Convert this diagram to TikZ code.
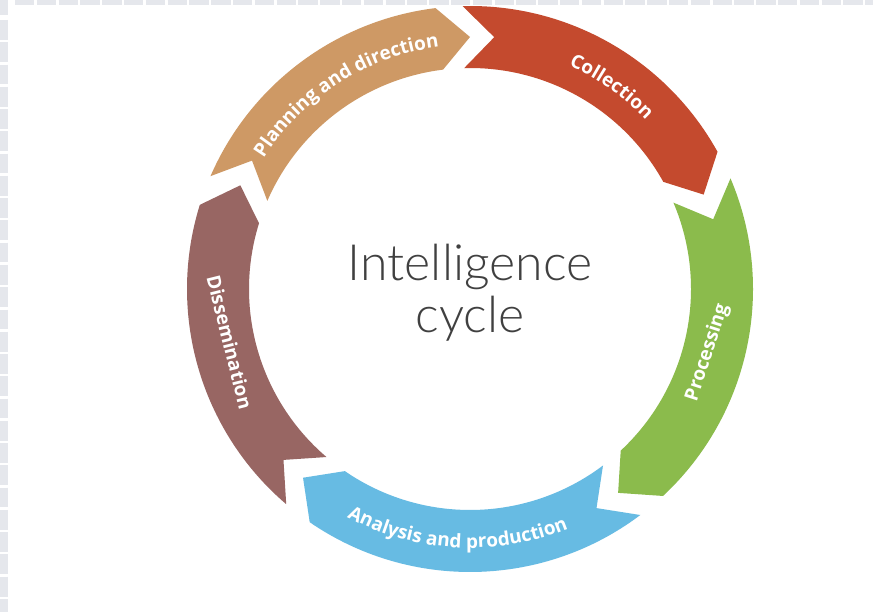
\documentclass[tikz,border=0pt]{standalone}
\usepackage{fontspec}
\setmainfont{Open Sans}
\newfontfamily\titlefont{Lato Light}
\usetikzlibrary{decorations.text}

\definecolor{planbrown}{RGB}{206,153,101}
\definecolor{collectred}{RGB}{196,74,46}
\definecolor{processgreen}{RGB}{139,187,76}
\definecolor{analysisblue}{RGB}{103,187,227}
\definecolor{dissemmauve}{RGB}{152,102,99}
\definecolor{titlegray}{RGB}{64,64,64}
\definecolor{gridgray}{RGB}{229,231,236}

\newcommand{\labelfont}{\bfseries\fontsize{19}{19}\selectfont}

% one block arrow of the ring: colour, tail angle, head angle
\newcommand{\cyclearrow}[3]{%
  \fill[#1] (#2:283) arc[start angle=#2, end angle=#3, radius=283pt]
    -- ({#3-7}:252) -- (#3:221) arc[start angle=#3, end angle=#2, radius=221pt]
    -- ({#2-7}:253) -- cycle;}

\begin{document}
\begin{tikzpicture}[
    x=1pt, y=1pt,
    curvedlabel/.style={
        decorate,
        decoration={text along path, text align=center,
                    text color=white, text={|\labelfont|#1}}
    },
    steplabel/.style={font=\labelfont, text=white, inner sep=0pt}
]
\useasboundingbox (0,0) rectangle (873,612);
\fill[white] (0,0) rectangle (873,612);

% grid strips along the top and left edge
\fill[gridgray] (0,597) rectangle (8,612);
\draw[gridgray, line width=8pt, dash pattern=on 19.8pt off 2.47pt] (4,592) -- (4,0);
\draw[gridgray, line width=5pt, dash pattern=on 19.3pt off 2.5pt] (15,609.5) -- (873,609.5);

\begin{scope}[shift={(470,323)}]
\cyclearrow{planbrown}{156.5}{97}
\cyclearrow{collectred}{91.5}{29}
\cyclearrow{processgreen}{23}{-47}
\cyclearrow{analysisblue}{-53}{-124.5}
\cyclearrow{dissemmauve}{-130.5}{-197.3}

\path[curvedlabel={Planning and direction}] (157.5:244) arc[start angle=157.5, end angle=87.5, radius=244pt];
\path[curvedlabel={Collection}] (85:244) arc[start angle=85, end angle=25, radius=244pt];
\path[curvedlabel={Analysis and production}] (-128:259) arc[start angle=-128, end angle=-58, radius=259pt];
\node[steplabel, rotate=72] (processing) at (-15:246) {Processing};
\node[steplabel, rotate=-76] (dissemination) at (192.5:246) {Dissemination};

\node[font=\titlefont\fontsize{50}{52}\selectfont, text=titlegray, align=center] (title) at (0,-4) {Intelligence\\cycle};
\end{scope}

\end{tikzpicture}
\end{document}
